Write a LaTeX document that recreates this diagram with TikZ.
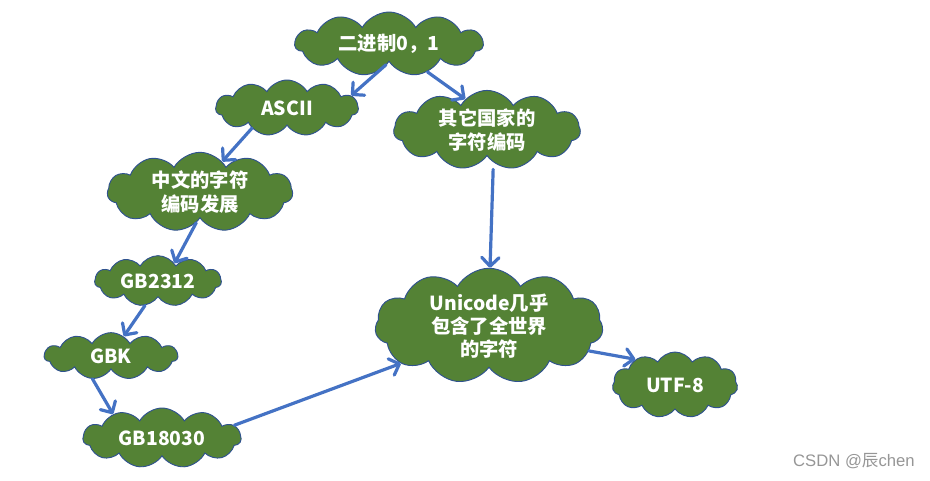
\documentclass[tikz,border=0pt]{standalone}
\usepackage{fontspec}
\setmainfont{Noto Sans CJK SC}
\newfontfamily\cjk{Noto Sans CJK SC}
\newfontfamily\wm{Liberation Sans}
\usetikzlibrary{shapes.symbols,arrows.meta}
\definecolor{cloudfill}{RGB}{84,130,53}
\definecolor{cloudline}{RGB}{47,82,143}
\definecolor{arrowblue}{RGB}{68,114,196}
\definecolor{wmgray}{RGB}{150,150,150}
\begin{document}
\begin{tikzpicture}[x=0.75pt,y=-0.75pt,
  cloudbox/.style={cloud, cloud puffs=11, cloud puff arc=120, cloud ignores aspect,
    draw=cloudline, line width=0.7pt, fill=cloudfill, text=white,
    font=\cjk\bfseries\fontsize{14.5}{17.5}\selectfont, align=center, inner sep=0pt},
  link/.style={draw=arrowblue, line width=2.4pt, line cap=round,
    -{Straight Barb[length=6.5pt,width=13pt,line cap=round,line join=round]}}]
\useasboundingbox (0,0) rectangle (930,481);

\node[cloudbox, minimum width=141pt, minimum height=48pt] (bin) at (389,44) {二进制0，1};
\node[cloudbox, minimum width=107pt, minimum height=42pt] (ascii) at (287,108) {ASCII};
\node[cloudbox, minimum width=140pt, minimum height=57pt] (other) at (487,130) {其它国家的\\字符编码};
\node[cloudbox, minimum width=139pt, minimum height=55pt] (cn) at (200,192) {中文的字符\\编码发展};
\node[cloudbox, minimum width=95pt, minimum height=38pt] (gb2312) at (158,281) {GB2312};
\node[cloudbox, minimum width=100pt, minimum height=35pt] (gbk) at (111,356) {GBK};
\node[cloudbox, minimum width=118.5pt, minimum height=45pt] (gb18030) at (162,438) {GB18030};
\node[cloudbox, minimum width=171pt, minimum height=81pt] (uni) at (489,326) {Unicode几乎\\包含了全世界\\的字符};
\node[cloudbox, minimum width=94pt, minimum height=49.5pt] (utf) at (675,385) {UTF-8};

\draw[link, shorten <=3pt] (bin.270) -- (ascii.11);
\draw[link] (bin.324) -- (other.125);
\draw[link] (ascii.210) -- (cn.54);
\draw[link] (cn.263) -- (gb2312.47);
\draw[link] (gb2312.242) -- (gbk.57);
\draw[link] (gbk.231) -- (gb18030.154);
\draw[link, shorten <=5pt] (other.281) -- (uni.89);
\draw[link] (gb18030.10) -- (uni.203);
\draw[link] (uni.346) -- (utf.147);

\node[anchor=east, inner sep=0pt, text=wmgray, font=\wm\fontsize{12.5}{14}\selectfont] (mark) at (915,461) {CSDN @{\cjk 辰}chen};
\end{tikzpicture}
\end{document}
